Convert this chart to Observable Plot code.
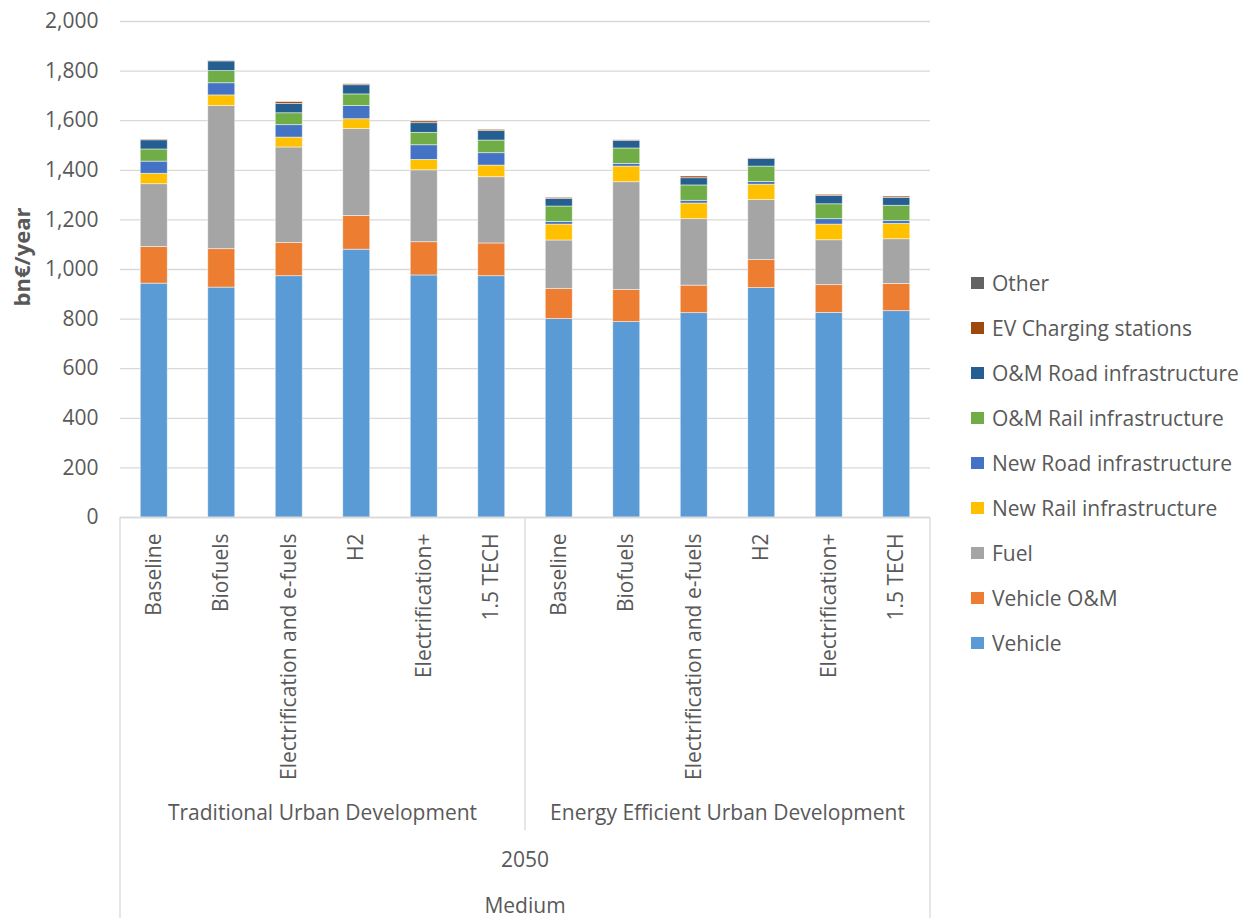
<!DOCTYPE html>
<html><head><meta charset="utf-8">
<script src="https://cdn.jsdelivr.net/npm/d3@7"></script>
<script src="https://cdn.jsdelivr.net/npm/@observablehq/plot@0.6"></script>
<style>
body{margin:0;background:#fff;font-family:"Open Sans",sans-serif;}
#wrap{position:relative;width:1248px;height:918px;overflow:hidden;}
#legend{position:absolute;left:971px;top:260px;color:#595959;font-size:21px;font-family:"Open Sans",sans-serif;}
.item{display:flex;align-items:center;height:45px;white-space:nowrap;}
.sw{width:13px;height:12px;margin-right:8px;flex:none;}
</style></head>
<body><div id="wrap"></div>
<script>
const groups = ["Traditional Urban Development", "Energy Efficient Urban Development"];
const scenarios = ["Baseline", "Biofuels", "Electrification and e-fuels", "H2", "Electrification+", "1.5 TECH"];
const seriesNames = ["Vehicle", "Vehicle O&M", "Fuel", "New Rail infrastructure", "New Road infrastructure",
  "O&M Rail infrastructure", "O&M Road infrastructure", "EV Charging stations", "Other"];
const seriesColors = ["#5B9BD5", "#ED7D31", "#A5A5A5", "#FFC000", "#4472C4", "#70AD47", "#255E91", "#9E480E", "#636363"];
const yearLabel = "2050";
const levelLabel = "Medium";
const yTicks = [0, 200, 400, 600, 800, 1000, 1200, 1400, 1600, 1800, 2000];

// values per bar: 6 Traditional, then 6 Energy Efficient
const vehicle      = [943, 927, 973, 1080, 976, 973,   800, 788, 824, 925, 825, 832];
const vehicleOM    = [148, 155, 134, 136, 134, 132,    122, 129, 111, 113, 112, 110];
const fuel         = [253, 577, 385, 350, 290, 267,    195, 435, 268, 242, 181, 180];
const newRail      = [42, 43, 40, 40, 42, 47,          64, 63, 63, 62, 63, 62];
const newRoad      = [49, 49, 50, 53, 59, 50,          11, 11, 11, 11, 22, 11];
const omRail       = [49, 49, 48, 47, 50, 51,          62, 62, 62, 62, 60, 62];
const omRoad       = [37, 39, 38, 37, 39, 38,          31, 31, 29, 31, 33, 32];
const evCharging   = [3, 2, 7, 4, 7, 5,                4, 2, 7, 2, 5, 5];
const other        = [0, 0, 0, 0, 0, 0,                0, 0, 0, 0, 0, 0];

const seriesValues = [vehicle, vehicleOM, fuel, newRail, newRoad, omRail, omRoad, evCharging, other];

const cats = [];
groups.forEach(g => scenarios.forEach(s => cats.push({group: g, scenario: s, key: g + "|" + s})));
const keys = cats.map(c => c.key);
const rows = [];
cats.forEach((c, i) => seriesNames.forEach((name, j) => rows.push({...c, series: name, value: seriesValues[j][i]})));

const txt = "#595959";
const fs = 21;
const plot = Plot.plot({
  width: 1248, height: 918,
  marginLeft: 120, marginRight: 318, marginTop: 21, marginBottom: 401,
  style: {fontFamily: "Open Sans, sans-serif", fontSize: fs + "px", color: txt, background: "white", overflow: "visible"},
  x: {domain: keys, paddingInner: 0.6, paddingOuter: 0.3, round: false, axis: null},
  y: {domain: [0, 2000]},
  color: {domain: seriesNames, range: seriesColors},
  marks: [
    Plot.gridY(yTicks, {stroke: "#d9d9d9", strokeOpacity: 1, strokeWidth: 1.3}),
    Plot.axisY(yTicks, {tickSize: 0, tickPadding: 22, tickFormat: d3.format(","), fill: txt, fontSize: fs, label: null}),
    Plot.barY(rows, {filter: d => d.value > 0, x: "key", y: "value", fill: "series", stroke: "white", strokeOpacity: 0.6, strokeWidth: 0.8}),
    Plot.ruleY([0], {stroke: "#d9d9d9", strokeWidth: 1.3}),
    Plot.text(cats, {x: "key", y: 0, text: "scenario", rotate: -90, textAnchor: "end", lineAnchor: "middle", dy: 16, fill: txt, fontSize: fs})
  ]
});
document.getElementById("wrap").appendChild(plot);

// multi-level category axis drawn with the plot's own scales
const xs = plot.scale("x"), ys = plot.scale("y");
const bw = xs.bandwidth;
const X = k => xs.apply(k);
const base = ys.apply(0);
const left = xs.range[0], right = xs.range[1];
const svg = d3.select(plot.tagName.toLowerCase() === "svg" ? plot : plot.querySelector("svg"));
const g = svg.append("g").attr("fill", txt).attr("font-size", fs).attr("font-family", "Open Sans, sans-serif");
const lineCol = "#d9d9d9";
const mid = (X(keys[5]) + bw + X(keys[6])) / 2;
[[left, 918], [mid, base + 313], [right, 918]].forEach(([x, y2]) =>
  g.append("line").attr("x1", x).attr("x2", x).attr("y1", base).attr("y2", y2).attr("stroke", lineCol).attr("stroke-width", 1.3));
groups.forEach((gr, gi) => {
  const first = X(keys[gi * 6]), last = X(keys[gi * 6 + 5]) + bw;
  g.append("text").attr("x", (first + last) / 2).attr("y", base + 296).attr("dy", "0.35em").attr("text-anchor", "middle").text(gr);
});
g.append("text").attr("x", (left + right) / 2).attr("y", base + 343).attr("dy", "0.35em").attr("text-anchor", "middle").text(yearLabel);
g.append("text").attr("x", (left + right) / 2).attr("y", base + 389).attr("dy", "0.35em").attr("text-anchor", "middle").text(levelLabel);
g.append("text").attr("transform", `translate(22,${(ys.apply(0) + ys.apply(2000)) / 2 - 12}) rotate(-90)`)
  .attr("dy", "0.35em").attr("text-anchor", "middle").attr("font-weight", "bold").attr("font-size", 22).text("bn€/year");

// legend (top to bottom: reverse stacking order)
const legend = document.createElement("div");
legend.id = "legend";
seriesNames.slice().reverse().forEach(name => {
  const it = document.createElement("div"); it.className = "item";
  const sw = document.createElement("span"); sw.className = "sw";
  sw.style.background = seriesColors[seriesNames.indexOf(name)];
  const t = document.createElement("span"); t.textContent = name;
  it.appendChild(sw); it.appendChild(t); legend.appendChild(it);
});
document.getElementById("wrap").appendChild(legend);
</script>
</body></html>
